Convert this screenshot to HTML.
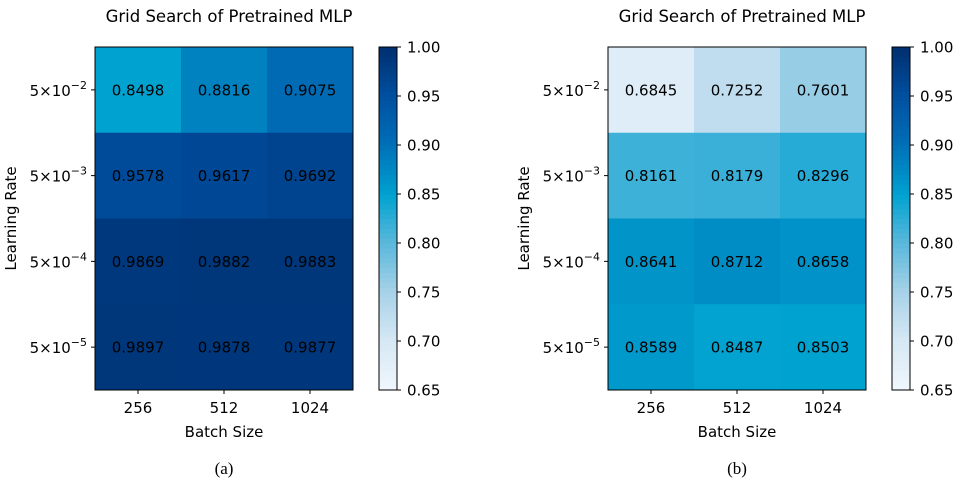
<!DOCTYPE html>
<html><head><meta charset="utf-8"><style>
body{margin:0;background:#fff;}
svg{display:block;font-family:"DejaVu Sans","Liberation Sans",sans-serif;}
</style></head><body>
<svg id="c" width="962" height="491" viewBox="0 0 962 491"></svg>
<script>
const batchSizes=["256","512","1024"];
const lrExps=["-2","-3","-4","-5"];
const valuesA=[[0.8498,0.8816,0.9075],[0.9578,0.9617,0.9692],[0.9869,0.9882,0.9883],[0.9897,0.9878,0.9877]];
const valuesB=[[0.6845,0.7252,0.7601],[0.8161,0.8179,0.8296],[0.8641,0.8712,0.8658],[0.8589,0.8487,0.8503]];
const cbTicks=[0.65,0.70,0.75,0.80,0.85,0.90,0.95,1.00];
const vmin=0.65,vmax=1.0;
const stops=[[0.65,[240,247,253]],[0.70,[214,232,244]],[0.75,[168,210,232]],[0.80,[90,184,220]],[0.85,[0,162,208]],[0.90,[0,112,184]],[0.95,[0,80,160]],[1.00,[0,47,112]]];
function cmap(v){v=Math.max(vmin,Math.min(vmax,v));for(let i=1;i<stops.length;i++){if(v<=stops[i][0]){const a=stops[i-1],b=stops[i],t=(v-a[0])/(b[0]-a[0]);const c=a[1].map((x,k)=>Math.round(x+(b[1][k]-x)*t));return `rgb(${c})`;}}return 'rgb(0,47,112)';}
const svg=document.getElementById('c');const NS='http://www.w3.org/2000/svg';
function mk(tag,attrs,parent,text){const e=document.createElementNS(NS,tag);for(const k in attrs)e.setAttribute(k,attrs[k]);if(text!==undefined)e.textContent=text;(parent||svg).appendChild(e);return e;}
function panel(x0,vals,cbx,caption,id){
  const g=mk('g',{});
  
  
  const W=258,H=343,y0=47,cw=W/batchSizes.length,ch=H/lrExps.length;
  const xs=i=>x0+i*cw, ys=j=>y0+j*ch;
  vals.forEach((row,j)=>row.forEach((v,i)=>{
    const r=mk('rect',{x:xs(i),y:ys(j),width:cw+0.5,height:ch+0.5,fill:cmap(v)},g);
    
    
    const t=mk('text',{x:xs(i)+cw/2,y:ys(j)+ch/2+5.5,'text-anchor':'middle','font-size':15,fill:'#000'},g,v.toFixed(4));
    
    
  }));
  mk('rect',{x:x0,y:y0,width:W,height:H,fill:'none',stroke:'#000','stroke-width':1},g);
  batchSizes.forEach((b,i)=>{const cx=xs(i)+cw/2;mk('line',{x1:cx,x2:cx,y1:y0+H,y2:y0+H+4,stroke:'#000'},g);
    const t=mk('text',{x:cx,y:y0+H+23,'text-anchor':'middle','font-size':15},g,b);
    
    });
  lrExps.forEach((e,j)=>{const cy=ys(j)+ch/2;mk('line',{x1:x0-4,x2:x0,y1:cy,y2:cy,stroke:'#000'},g);
    const t=mk('text',{x:x0-8,y:cy+6,'text-anchor':'end','font-size':15},g);
    
    
    t.textContent='5×10';mk('tspan',{dy:-7,'font-size':11},t,'−'+e.slice(1));});
  const xt=mk('text',{x:x0+W/2,y:y0+H+47,'text-anchor':'middle','font-size':15},g,'Batch Size');
  
  
  const yt=mk('text',{x:0,y:0,'text-anchor':'middle','font-size':15,transform:`translate(${x0-79},${y0+H/2}) rotate(-90)`},g,'Learning Rate');
  
  
  const tt=mk('text',{x:x0+W/2+5,y:22,'text-anchor':'middle','font-size':16.5},g,'Grid Search of Pretrained MLP');
  
  
  const cbW=18,N=70;
  for(let k=0;k<N;k++){const v=vmin+(vmax-vmin)*(k+0.5)/N;mk('rect',{x:cbx,y:y0+H-(k+1)*H/N,width:cbW,height:H/N+0.6,fill:cmap(v)},g);}
  const cb=mk('rect',{x:cbx,y:y0,width:cbW,height:H,fill:'none',stroke:'#000'},g);
  
  
  cbTicks.forEach(v=>{const y=y0+H-(v-vmin)/(vmax-vmin)*H;mk('line',{x1:cbx+cbW,x2:cbx+cbW+4,y1:y,y2:y,stroke:'#000'},g);
    const t=mk('text',{x:cbx+cbW+10,y:y+5.5,'font-size':15},g,v.toFixed(2));
    
    });
  const cap=mk('text',{x:x0+W/2,y:474,'text-anchor':'middle','font-size':17,'font-family':'Liberation Serif, serif'},g,caption);
  
  
}
panel(95,valuesA,379,'(a)','a');
panel(608,valuesB,892,'(b)','b');
</script>
</body></html>
